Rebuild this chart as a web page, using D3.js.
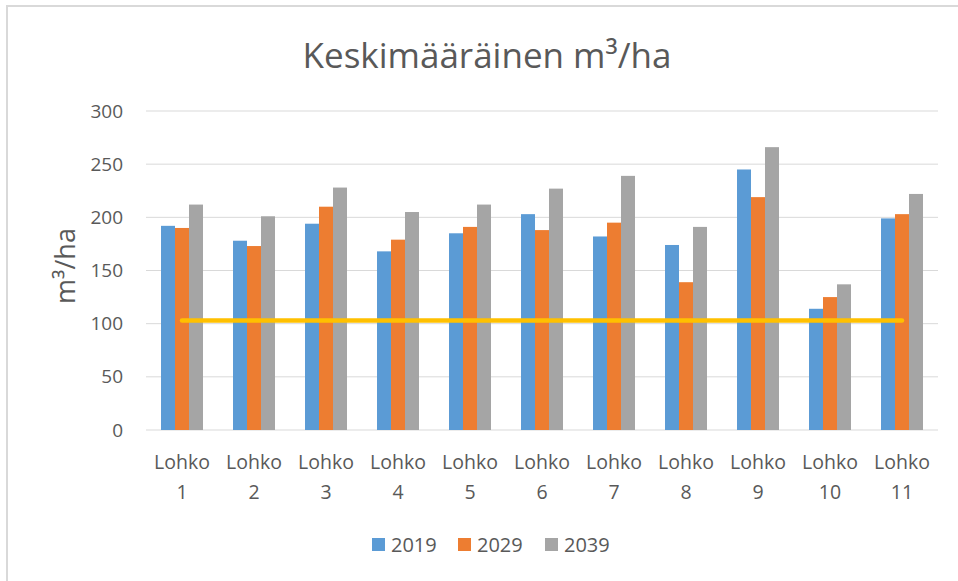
<!DOCTYPE html>
<html>
<head>
<meta charset="utf-8">
<script src="https://cdn.jsdelivr.net/npm/d3@7"></script>
<style>
  html, body { margin: 0; padding: 0; background: #fff; }
  svg { display: block; font-family: "Open Sans", "Liberation Sans", sans-serif; }
</style>
</head>
<body>
<div id="chart"></div>
<script>
const WIDTH = 958;
const HEIGHT = 581;

const categories = ["1", "2", "3", "4", "5", "6", "7", "8", "9", "10", "11"];
const seriesNames = ["2019", "2029", "2039"];
const seriesColors = ["#5b9bd5", "#ed7d31", "#a5a5a5"];

const values2019 = [192, 178, 194, 168, 185, 203, 182, 174, 245, 114, 199];
const values2029 = [190, 173, 210, 179, 191, 188, 195, 139, 219, 125, 203];
const values2039 = [212, 201, 228, 205, 212, 227, 239, 191, 266, 137, 222];

const referenceLevel = 103;
const yTicks = [0, 50, 100, 150, 200, 250, 300];

const MARGIN = { top: 111, right: 20, bottom: 151, left: 146 };
const innerWidth = 938 - MARGIN.left;
const innerHeight = 430 - MARGIN.top;
const TEXT = "#595959";

const svg = d3.select("#chart")
  .append("svg")
  .attr("width", WIDTH)
  .attr("height", HEIGHT);

// outer frame (only top and left are visible in the original)
svg.append("path")
  .attr("d", `M7,${HEIGHT} V6 H${WIDTH}`)
  .attr("fill", "none")
  .attr("stroke", "#d9d9d9")
  .attr("stroke-width", 2);

svg.append("text")
  .attr("x", 487)
  .attr("y", 68)
  .attr("text-anchor", "middle")
  .attr("fill", TEXT)
  .attr("font-size", 35)
  .text("Keskimääräinen m³/ha");

const g = svg.append("g")
  .attr("transform", `translate(${MARGIN.left},${MARGIN.top})`);

const x0 = d3.scaleBand()
  .domain(categories)
  .range([0, innerWidth])
  .paddingInner(0.417)
  .paddingOuter(0.2085);

const x1 = d3.scaleBand()
  .domain(seriesNames)
  .range([0, x0.bandwidth()]);

const y = d3.scaleLinear()
  .domain([0, 300])
  .range([innerHeight, 0]);

// gridlines
g.append("g")
  .selectAll("line")
  .data(yTicks)
  .join("line")
  .attr("x1", 0)
  .attr("x2", innerWidth)
  .attr("y1", d => y(d))
  .attr("y2", d => y(d))
  .attr("stroke", "#d9d9d9")
  .attr("stroke-width", 1);

// y axis labels
const yAxis = g.append("g")
  .call(d3.axisLeft(y).tickValues(yTicks).tickSize(0).tickPadding(23));
yAxis.select(".domain").remove();
yAxis.selectAll("text")
  .attr("fill", TEXT)
  .attr("font-size", 19)
  .attr("font-family", "'Open Sans', 'Liberation Sans', sans-serif");

svg.append("text")
  .attr("transform", `translate(75,266) rotate(-90)`)
  .attr("text-anchor", "middle")
  .attr("fill", TEXT)
  .attr("font-size", 27)
  .text("m³/ha");

// bars
const table = categories.map((c, i) => ({
  cat: c,
  vals: [values2019[i], values2029[i], values2039[i]],
}));

const groups = g.selectAll(".grp")
  .data(table)
  .join("g")
  .attr("class", "grp")
  .attr("transform", d => `translate(${x0(d.cat)},0)`);

groups.selectAll("rect")
  .data(d => d.vals.map((v, k) => ({ key: seriesNames[k], v, color: seriesColors[k] })))
  .join("rect")
  .attr("x", d => x1(d.key))
  .attr("width", x1.bandwidth())
  .attr("y", d => y(d.v))
  .attr("height", d => y(0) - y(d.v))
  .attr("fill", d => d.color);

// reference line across category centres
const line = d3.line()
  .x(d => x0(d) + x0.bandwidth() / 2)
  .y(() => y(referenceLevel));

g.append("path")
  .datum(categories)
  .attr("d", line)
  .attr("fill", "none")
  .attr("stroke", "#ffc000")
  .attr("stroke-width", 4.5)
  .attr("stroke-linecap", "round");

// x labels (two lines)
const xl = g.append("g")
  .selectAll("text")
  .data(categories)
  .join("text")
  .attr("x", d => x0(d) + x0.bandwidth() / 2)
  .attr("y", innerHeight + 39)
  .attr("text-anchor", "middle")
  .attr("fill", TEXT)
  .attr("font-size", 19.5);
xl.append("tspan").text("Lohko");
xl.append("tspan")
  .attr("x", d => x0(d) + x0.bandwidth() / 2)
  .attr("dy", 30)
  .text(d => d);

// legend
const legendX = [372, 458, 545];
const legend = svg.append("g")
  .selectAll("g")
  .data(seriesNames)
  .join("g")
  .attr("transform", (d, i) => `translate(${legendX[i]},538)`);

legend.append("rect")
  .attr("width", 13)
  .attr("height", 13)
  .attr("fill", (d, i) => seriesColors[i]);

legend.append("text")
  .attr("x", 19)
  .attr("y", 14)
  .attr("fill", TEXT)
  .attr("font-size", 20)
  .text(d => d);
</script>
</body>
</html>
